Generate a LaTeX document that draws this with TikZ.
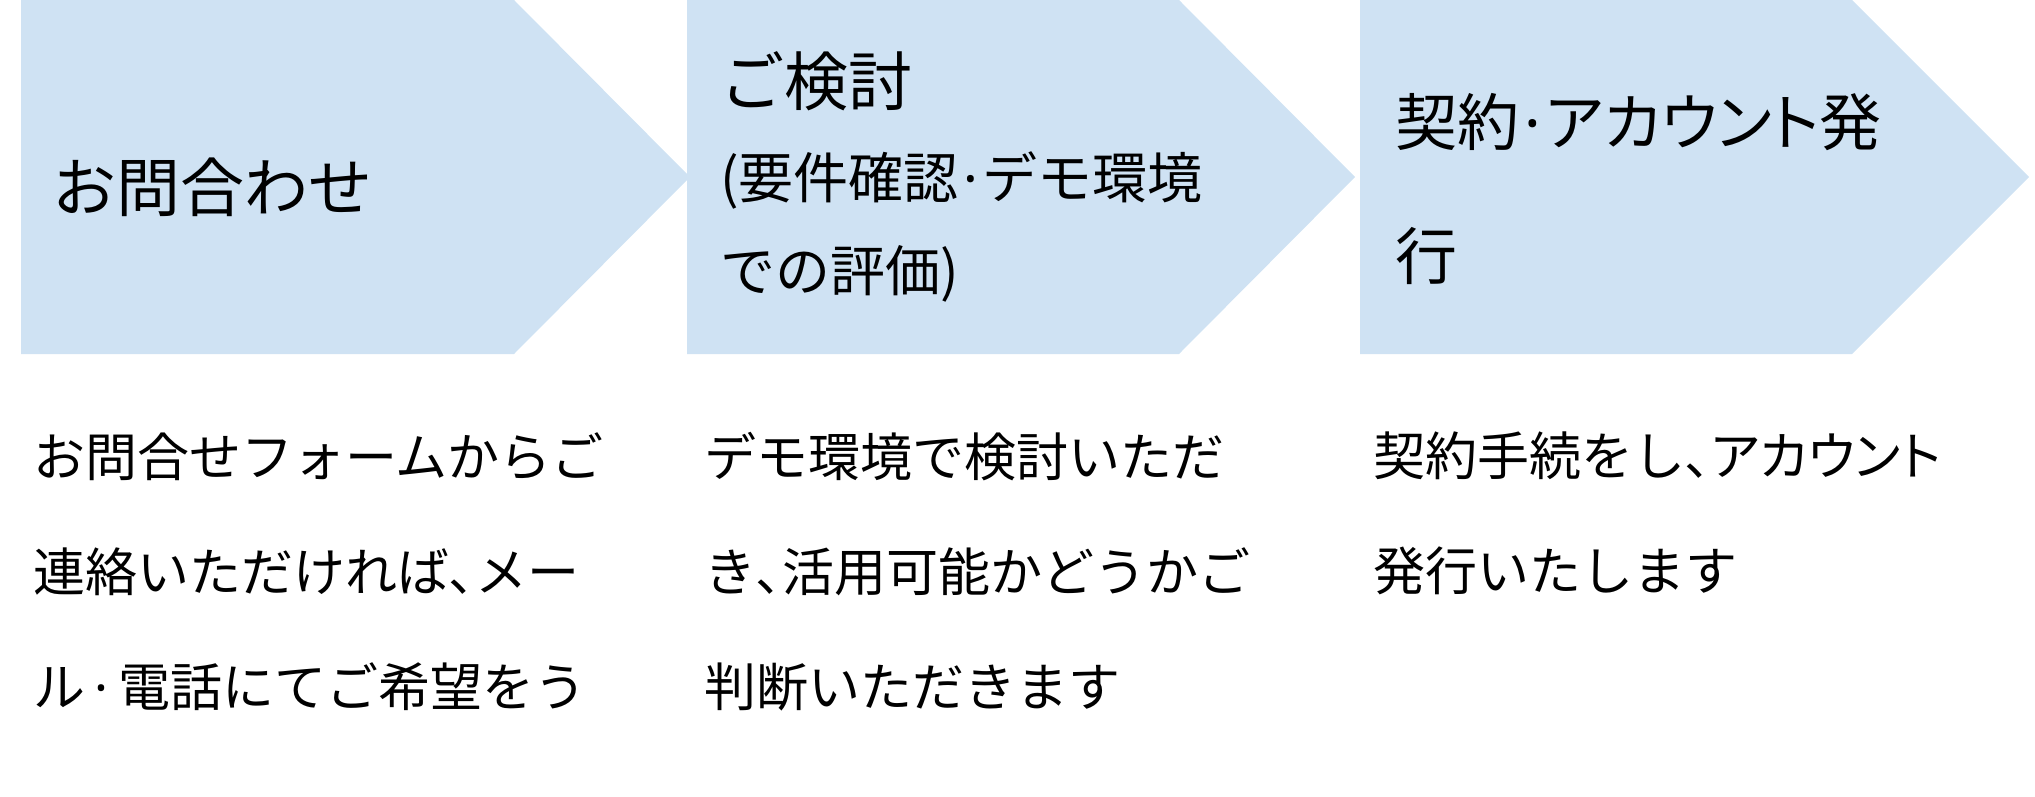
\documentclass[tikz,border=0pt]{standalone}
\usepackage{fontspec}
\setmainfont{Noto Sans CJK JP}
\newfontfamily\dotfont{Noto Sans}
\newcommand{\middot}{\hspace{0.08em}{\dotfont ·}\hspace{0.08em}}
\newcommand{\prop}[1]{{\addfontfeatures{RawFeature=+palt}#1}}
\definecolor{stepblue}{HTML}{CFE2F3}
\tikzset{
  stepshape/.style = {fill = stepblue},
  steptitle/.style = {anchor = base west, inner sep = 0, align = left,
    font = \fontsize{32}{47.5}\selectfont},
  stepbody/.style = {anchor = base west, inner sep = 0, align = left,
    font = \fontsize{26}{57.5}\selectfont}
}
\begin{document}
\begin{tikzpicture}[x = 0.5pt, y = -0.5pt]
  \useasboundingbox (0, 0) rectangle (2035, 797);

  \fill[stepshape] (21, 0) -- (514, 0) -- (690, 177) -- (514, 354)
    -- (21, 354) -- cycle;
  \fill[stepshape] (687, 0) -- (1179, 0) -- (1355, 177) -- (1179, 354)
    -- (687, 354) -- cycle;
  \fill[stepshape] (1360, 0) -- (1852, 0) -- (2029, 177) -- (1852, 354)
    -- (1360, 354) -- cycle;

  \node[steptitle] (inquiry) at (52, 211) {お問合わせ};
  \node[steptitle, font = \fontsize{27.5}{46.5}\selectfont] (review)
    at (720, 291)
    {{\fontsize{32}{46.5}\selectfont ご検討}\\(要件確認\middot デモ環境\\での評価)};
  \node[steptitle, font = \fontsize{31}{67}\selectfont] (contract)
    at (1395, 279) {契約\middot\prop{アカウント}発\\行};

  \node[stepbody] (inquirytext) at (33, 706)
    {お問合せフォームからご\\連絡いただければ\prop{、}メー\\
     ル\hspace{0.1em}\middot\hspace{0.1em}電話にてご希望をう};
  \node[stepbody] (reviewtext) at (704, 706)
    {デモ環境で検討いただ\\き\prop{、}活用可能かどうかご\\判断いただきます};
  \node[stepbody] (contracttext) at (1373, 590)
    {契約手続をし\prop{、アカウント}\\発行いたします};
\end{tikzpicture}
\end{document}
